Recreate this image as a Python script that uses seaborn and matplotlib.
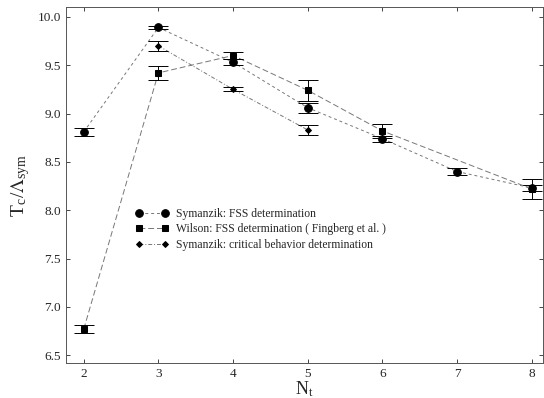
import numpy as np
import pandas as pd
import seaborn as sns
import matplotlib
matplotlib.use("Agg")
import matplotlib.pyplot as plt

# Data
nt_sym = [2, 3, 4, 5, 6, 7, 8]
tc_sym = [8.81, 9.89, 9.53, 9.06, 8.74, 8.40, 8.23]
err_sym = [0.04, 0.02, 0.03, 0.05, 0.03, 0.04, 0.03]

nt_wil = [2, 3, 4, 5, 6, 8]
tc_wil = [6.77, 9.42, 9.60, 9.24, 8.82, 8.22]
err_wil = [0.04, 0.07, 0.04, 0.11, 0.07, 0.10]

nt_crit = [3, 4, 5]
tc_crit = [9.70, 9.25, 8.83]
err_crit = [0.05, 0.02, 0.05]

labels = ["Symanzik: FSS determination",
          "Wilson: FSS determination ( Fingberg et al. )",
          "Symanzik: critical behavior determination"]

sns.set_style("ticks")
plt.rcParams['font.family'] = ['Liberation Serif', 'DejaVu Serif']
plt.rcParams['mathtext.fontset'] = 'stix'

fig = plt.figure(figsize=(5.44, 3.98), dpi=100)
ax = fig.add_axes([0.121, 0.088, 0.877, 0.894])

series = [
    (nt_sym, tc_sym, err_sym, labels[0], 'o', 5.5, (3, 3)),
    (nt_wil, tc_wil, err_wil, labels[1], 's', 5, (6, 3)),
    (nt_crit, tc_crit, err_crit, labels[2], 'D', 3, (4, 2, 1, 2)),
]
for x, y, e, lab, m, ms, dash in series:
    df = pd.DataFrame({"Nt": x, "Tc": y})
    sns.lineplot(data=df, x="Nt", y="Tc", ax=ax, color="#777777", lw=0.7,
                 marker=m, markersize=ms, markerfacecolor='black',
                 markeredgecolor='black', label=lab)
    ax.get_lines()[-1].set_dashes(dash)
    ax.errorbar(x, y, yerr=e, fmt='none', ecolor='black', elinewidth=0.7,
                capsize=7, capthick=0.7)

ax.set_xlim(1.76, 8.15)
ax.set_ylim(6.42, 10.1)
ax.set_xticks([2, 3, 4, 5, 6, 7, 8])
ax.set_yticks(np.arange(6.5, 10.01, 0.5))
ax.set_yticklabels([f"{v:.1f}" for v in np.arange(6.5, 10.01, 0.5)])
ax.tick_params(direction='in', top=True, right=True, labelsize=9.5, length=3, width=0.6)
for s in ax.spines.values():
    s.set_linewidth(0.7)
    s.set_color('#555555')

ax.set_xlabel(r"N$_\mathregular{t}$", fontsize=13, labelpad=0)
ax.set_ylabel(r"T$_\mathregular{c}$/$\Lambda_{\mathregular{sym}}$", fontsize=14, labelpad=4)

ax.legend(loc='center left', bbox_to_anchor=(0.125, 0.376), frameon=False,
          fontsize=8.4, numpoints=2, handlelength=2.8, labelspacing=0.3,
          handletextpad=0.6)

fig.savefig("out.png", dpi=100)
